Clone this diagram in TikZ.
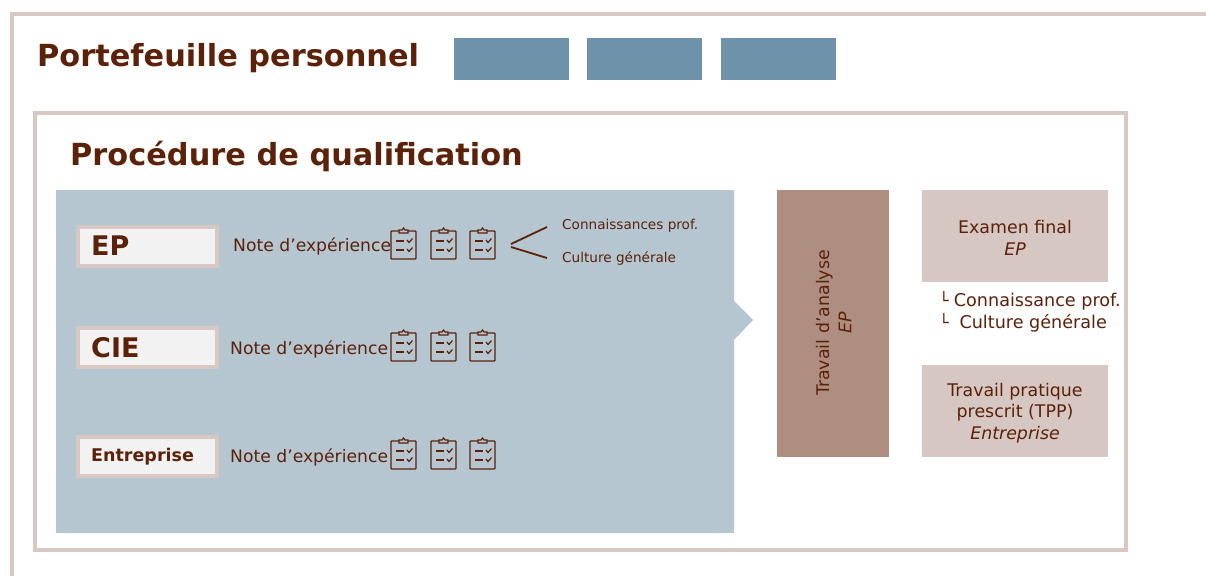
\documentclass[tikz,border=0pt]{standalone}
\usepackage{xcolor}
\usepackage{fontspec}
\setmainfont{DejaVu Sans}
\usetikzlibrary{calc}
\definecolor{brownText}{HTML}{5C2109}
\definecolor{frameRose}{HTML}{D8C8C3}
\definecolor{tabBlue}{HTML}{6E92A9}
\definecolor{panelBlue}{HTML}{B5C6D1}
\definecolor{darkRose}{HTML}{AE8E81}
\definecolor{lightRose}{HTML}{D6C7C2}
\definecolor{labelGrey}{HTML}{F2F2F2}
\newcommand{\fsize}[1]{\fontsize{#1}{21.5}\selectfont}
\tikzset{
  frameline/.style={draw=frameRose,line width=3.5pt},
  tabbox/.style={fill=tabBlue,minimum width=115,minimum height=42,inner sep=0,anchor=north west},
  titletext/.style={text=brownText,font=\fsize{30.4}\bfseries,anchor=west,inner sep=0},
  labelbox/.style={fill=labelGrey,draw=frameRose,line width=3.5pt,minimum width=139,minimum height=39,inner sep=0,anchor=north west},
  labeltext/.style={text=brownText,font=\fsize{27}\bfseries,anchor=west,inner sep=0},
  notetext/.style={text=brownText,font=\fsize{17.2},anchor=west,inner sep=0},
  smalltext/.style={text=brownText,font=\fsize{13.6},anchor=west,inner sep=0},
  rosebox/.style={fill=lightRose,minimum width=186,minimum height=92,inner sep=0,anchor=north west},
  rosetext/.style={text=brownText,font=\fsize{17.4},align=center,inner sep=0},
  branchline/.style={draw=brownText,line width=1.8pt},
  iconline/.style={draw=brownText,line width=1.2pt}
}
% one clipboard, with its top left corner at the given point
\newcommand{\clipicon}[2]{%
  \draw [iconline,rounded corners=0.8] (#1,#2+3) rectangle (#1+25,#2+31);%
  \draw [iconline,fill=panelBlue] (#1+8,#2+5) -- (#1+8,#2+2) -- (#1+11,#2+2) -- (#1+12.5,#2) -- (#1+14,#2+2) -- (#1+17,#2+2) -- (#1+17,#2+5) -- cycle;%
  \draw [iconline] (#1+5,#2+13) -- (#1+13,#2+13);%
  \draw [iconline] (#1+5,#2+22) -- (#1+13,#2+22);%
  \draw [iconline] (#1+16,#2+12) -- (#1+18,#2+14.5) -- (#1+21.5,#2+10.5);%
  \draw [iconline] (#1+16,#2+21) -- (#1+18,#2+23.5) -- (#1+21.5,#2+19.5);%
}
\begin{document}
\begin{tikzpicture}[x=1pt,y=-1pt]
  \useasboundingbox (0,0) rectangle (1206,576);

  % Outer frame, open to the right and to the bottom
  \draw [frameline] (12,576) -- (12,14) -- (1206,14);
  \node [titletext] (portfolio) at (37,58) {Portefeuille personnel};

  % Tabs
  \node [tabbox] (tabA) at (454,38) {};
  \node [tabbox] (tabB) at (586.5,38) {};
  \node [tabbox] (tabC) at (720.5,38) {};

  % Inner frame
  \draw [frameline] (35,113) rectangle (1126,550);
  \node [titletext] (procedure) at (70,156) {Procédure de qualification};

  % Blue panel with its pointer
  \fill [panelBlue] (56,190) -- (734,190) -- (734,301) -- (753,320) -- (734,340) -- (734,533) -- (56,533) -- cycle;

  % Label boxes
  \node [labelbox] (ep) at (76,225) {};
  \node [labeltext] (eptext) at (91,246) {EP};
  \node [labelbox] (cie) at (76,326) {};
  \node [labeltext] (cietext) at (91,348) {CIE};
  \node [labelbox] (firm) at (76,435) {};
  \node [labeltext,font=\fsize{17.5}\bfseries] (firmtext) at (91,457) {Entreprise};

  % Experience marks
  \node [notetext] (noteEP) at (233,246) {Note d’expérience};
  \node [notetext] (noteCIE) at (230,349) {Note d’expérience};
  \node [notetext] (noteFirm) at (230,457) {Note d’expérience};

  % Clipboards
  \foreach \px in {391,431,470}{
    \clipicon{\px}{228}
    \clipicon{\px}{330}
    \clipicon{\px}{438}
  }

  % Branches of the first row
  \coordinate (forkA) at (511,244);
  \coordinate (forkB) at (511,247);
  \node [smalltext] (knowledge) at (562,226) {Connaissances prof.};
  \node [smalltext] (culture) at (562,258) {Culture générale};
  \draw [branchline] (forkA) -- ($(knowledge.west)+(-15,1)$);
  \draw [branchline] (forkB) -- ($(culture.west)+(-15,0)$);

  % Boxes on the right
  \node [fill=darkRose,minimum width=112,minimum height=267,inner sep=0,anchor=north west] (analysis) at (777,190) {};
  \node [rosetext,rotate=90] (analysistext) at (834,323) {Travail d’analyse\\\textit{EP}};
  \node [rosebox] (exam) at (922,190) {};
  \node [rosetext] (examtext) at (1015,238) {Examen final\\\textit{EP}};
  \node [rosebox] (tpp) at (922,365) {};
  \node [rosetext] (tpptext) at (1015,413) {Travail pratique\\prescrit (TPP)\\\textit{Entreprise}};

  % Sub-items of the final exam
  \node [notetext,font=\fsize{17.6}] (subA) at (939,301) {\fsize{16}└ \fsize{17.6}Connaissance prof.};
  \node [notetext,font=\fsize{17.6}] (subB) at (939,323) {\fsize{16}└ \fsize{17.6}~Culture générale};
\end{tikzpicture}
\end{document}
